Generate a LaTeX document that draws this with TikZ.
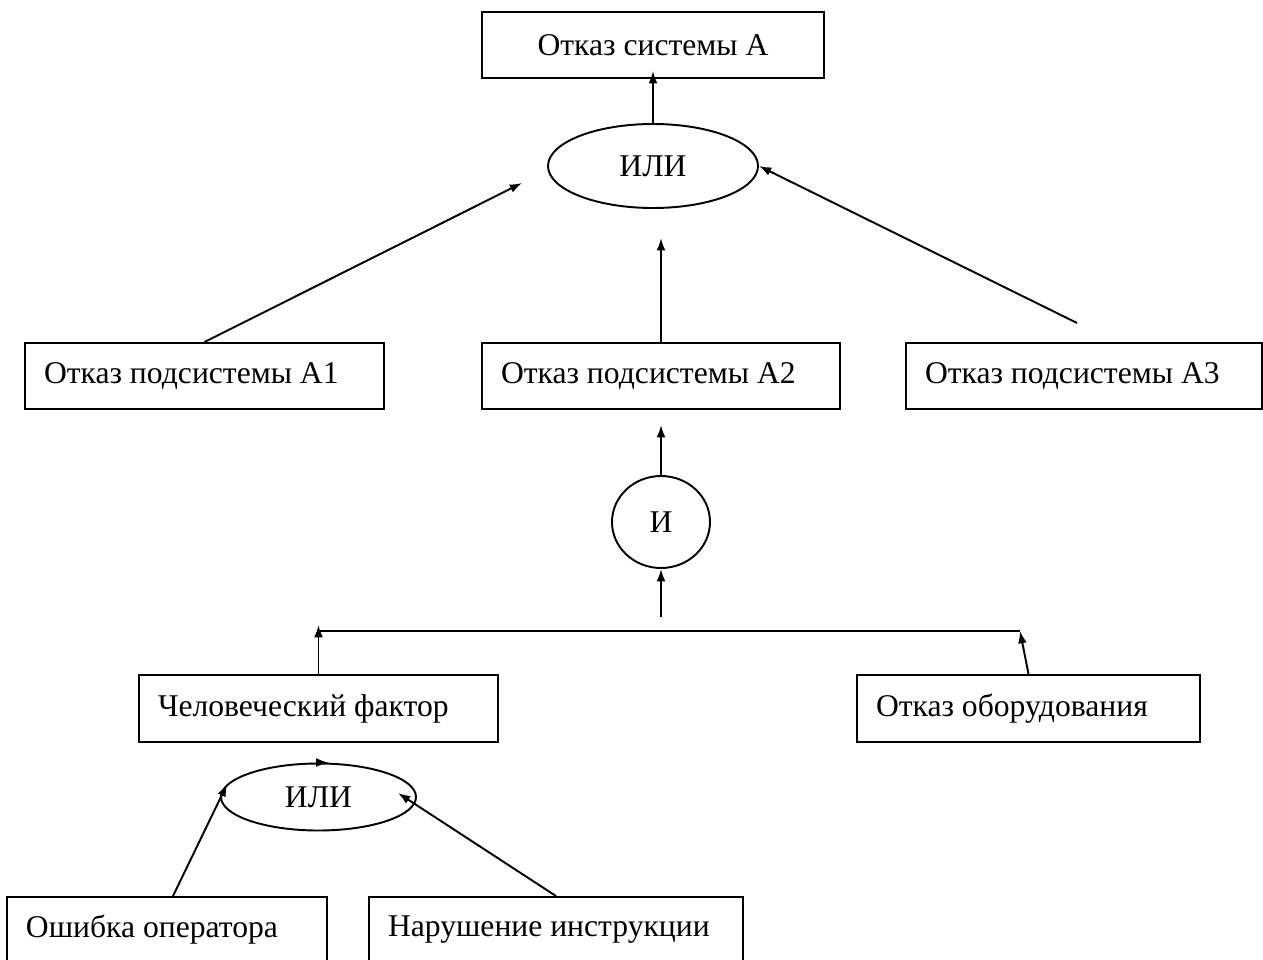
\documentclass[tikz,border=0pt]{standalone}
\usepackage{fontspec}
\setmainfont{Liberation Serif}
\usetikzlibrary{arrows.meta, shapes.geometric}

\begin{document}
\begin{tikzpicture}[line width=1.1pt,
        every node/.style={font=\fontsize{18}{22}\selectfont},
        box/.style={draw, rectangle, minimum height=1.32cm, inner xsep=0.38cm, align=flush left},
        gate/.style={draw, ellipse, inner sep=0pt},
        arr/.style={-{Latex[length=7pt,width=5pt]}}]
      \useasboundingbox (0,0) rectangle (25.26,-19.2);
      % top event
      \node[box, text width=6.08cm, align=flush center] (sysA) at (13.06,-0.90) {Отказ системы А};
      \node[gate, minimum width=4.2cm, minimum height=1.68cm] (or1) at (13.06,-3.32) {ИЛИ};
      % subsystems
      \node[box, text width=6.42cm] (subA1) at (4.09,-7.52) {Отказ подсистемы А1};
      \node[box, text width=6.40cm] (subA2) at (13.22,-7.52) {Отказ подсистемы А2};
      \node[box, text width=6.36cm] (subA3) at (21.68,-7.52) {Отказ подсистемы А3};
      \node[gate, minimum width=1.96cm, minimum height=1.84cm] (and1) at (13.22,-10.44) {И};
      % causes
      \node[box, text width=6.42cm, minimum height=1.34cm] (human) at (6.37,-14.17) {Человеческий фактор};
      \node[box, text width=6.10cm, minimum height=1.34cm] (equip) at (20.57,-14.17) {Отказ оборудования};
      \node[gate, minimum width=3.9cm, minimum height=1.34cm] (or2) at (6.37,-15.94) {ИЛИ};
      \node[box, text width=5.64cm] (oper) at (3.34,-18.6) {Ошибка оператора};
      \node[box, text width=6.72cm] (instr) at (11.12,-18.6) {Нарушение~инструкции};
      % free ends
      \coordinate (tipA1) at (10.44,-3.66);
      \coordinate (tipA2) at (13.22,-4.76);
      \coordinate (startA3) at (21.54,-6.46);
      \coordinate (tipAnd) at (13.22,-8.5);
      \coordinate (startAnd) at (13.22,-12.34);
      \coordinate (busL) at (6.37,-12.62);
      \coordinate (busR) at (20.4,-12.62);
      \coordinate (tipInstr) at (7.96,-15.86);
      % connectors
      \draw[arr] (or1.north) -- ([yshift=0.16cm]sysA.south);
      \draw[arr] (subA1.north) -- (tipA1);
      \draw[arr] (subA2.north) -- (tipA2);
      \draw[arr] (startA3) -- (or1.east);
      \draw[arr] (and1.north) -- (tipAnd);
      \draw[arr] (startAnd) -- (and1.south);
      \draw[arr] (human.north) -- ([yshift=0.12cm]busL);
      \draw (busL) -- (busR);
      \draw[arr] (equip.north) -- (busR);
      \draw[arr] (or2.north) -- ([xshift=0.2cm]or2.north);
      \draw[arr] ([xshift=0.12cm]oper.north) -- (or2.172);
      \draw[arr] (instr.north) -- (tipInstr);
    \end{tikzpicture}
\end{document}
